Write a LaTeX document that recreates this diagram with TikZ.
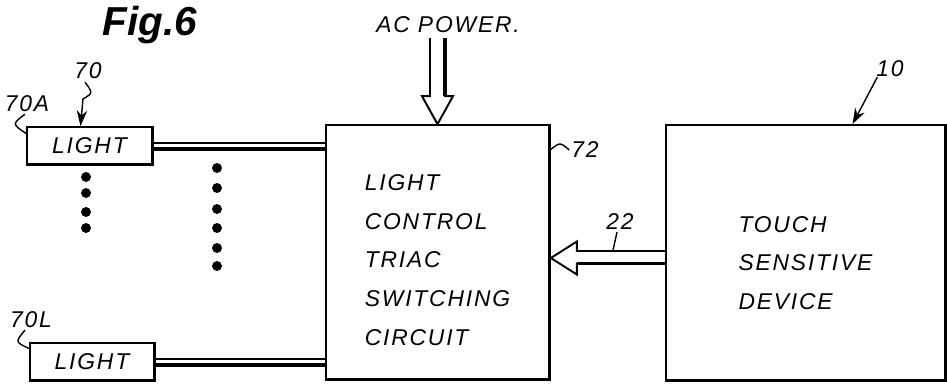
\documentclass[tikz,border=0pt]{standalone}
\usepackage{fontspec}
\setmainfont{Liberation Sans}
\newfontfamily\lettering[LetterSpace=8]{Liberation Sans}
\usetikzlibrary{calc,arrows.meta}

\begin{document}
\begin{tikzpicture}[x=0.02cm, y=-0.02cm,
    box/.style={draw, line width=1pt, inner sep=0pt},
    lbl/.style={font=\lettering\itshape\fontsize{13}{22}\selectfont},
    num/.style={font=\lettering\itshape\fontsize{13}{15}\selectfont, inner sep=1pt},
    lead/.style={line width=0.8pt}]
    \useasboundingbox (0,0) rectangle (947,383);

    \node[font=\itshape\bfseries\fontsize{23}{23}\selectfont, anchor=base] (figlabel) at (150,35) {Fig.6};

    % blocks
    \node[box, lbl, minimum width=2.5cm, minimum height=0.74cm] (lightA) at (89.5,145.5) {LIGHT};
    \node[box, lbl, minimum width=2.48cm, minimum height=0.74cm] (lightL) at (92,361.5) {LIGHT};
    \node[box, lbl, align=left, minimum width=4.46cm, minimum height=5.08cm] (ctrl) at (437.5,252)
        {\rule{0pt}{18pt}LIGHT\\CONTROL\\TRIAC\\SWITCHING\\CIRCUIT};
    \node[box, lbl, align=left, minimum width=5.58cm, minimum height=5.1cm] (touch) at (805.5,252.5)
        {\rule{0pt}{21pt}TOUCH\\SENSITIVE\\DEVICE};
    \foreach \b in {lightA,lightL,ctrl,touch}
        \draw[line width=1.6pt] (\b.north east) -- (\b.south east) -- (\b.south west);

    % light lines
    \foreach \b in {lightA,lightL} {
        \draw[line width=0.7pt] ($(\b.east)+(0,-2.5)$) -- ($(\b.east -| ctrl.west)+(0,-2.5)$);
        \draw[line width=1.8pt] ($(\b.east)+(0,3.5)$) -- ($(\b.east -| ctrl.west)+(0,3.5)$);
    }

    \filldraw[black] (86,177) circle (2.6pt) (86,193) circle (2.6pt) (86,212) circle (2.6pt) (86,228) circle (2.6pt);
    \foreach \y in {168,188,209,228,248,266}
        \filldraw[black] (217,\y) circle (2.6pt);

    % AC power
    \node[num] (acpower) at (448,25) {AC POWER.};
    \draw[line width=1.1pt] ($(ctrl.north)+(-7.5,-86)$) -- ($(ctrl.north)+(-7.5,-28)$) -- ($(ctrl.north)+(-15.5,-28)$)
        -- (ctrl.north) -- ($(ctrl.north)+(15.5,-28)$) -- ($(ctrl.north)+(7.5,-28)$) -- ($(ctrl.north)+(7.5,-86)$);
    \draw[line width=2pt] ($(ctrl.north)+(7.5,-28)$) -- ($(ctrl.north)+(7.5,-86)$);

    % bus 22
    \coordinate (tip22) at ($(ctrl.east)+(1,6)$);
    \draw[line width=1.1pt] ($(tip22 -| touch.west)+(0,-7)$) -- ($(tip22)+(26,-7)$) -- ($(tip22)+(26,-16.5)$)
        -- (tip22) -- ($(tip22)+(26,16.5)$) -- ($(tip22)+(26,5.5)$) -- ($(tip22 -| touch.west)+(0,5.5)$);
    \draw[line width=2pt] ($(tip22)+(26,5.5)$) -- ($(tip22 -| touch.west)+(0,5.5)$);

    % reference numerals
    \node[num] (n22) at (620,222) {22};
    \draw[lead] ($(n22.south)+(-3,0)$) -- ($(tip22)+(62,-7)$);
    \node[num] (n72) at (585,150) {72};
    \draw[lead] (n72.west) .. controls (560,142) .. ($(ctrl.north east)+(0,26)$);
    \node[num] (n10) at (890,69) {10};
    \draw[lead, -{Stealth[length=9pt, width=6pt]}] ($(n10.south west)+(3,-2)$) -- ($(touch.north)+(47,0)$);
    \node[num] (n70) at (88,71) {70};
    \draw[lead, -{Stealth[length=9pt, width=6pt]}] ($(n70.south)+(-3,1)$) .. controls (93,93) .. (83,99) -- ($(lightA.north)+(-9,0)$);
    \node[num] (n70A) at (27,104) {70A};
    \draw[lead] ($(n70A.south)+(-2,0)$) .. controls (12,124) .. ($(lightA.west)+(0,-12)$);
    \node[num] (n70L) at (31,320) {70L};
    \draw[lead] ($(n70L.south)+(-6,0)$) .. controls (15,342) .. ($(lightL.west)+(0,-13)$);
\end{tikzpicture}
\end{document}
